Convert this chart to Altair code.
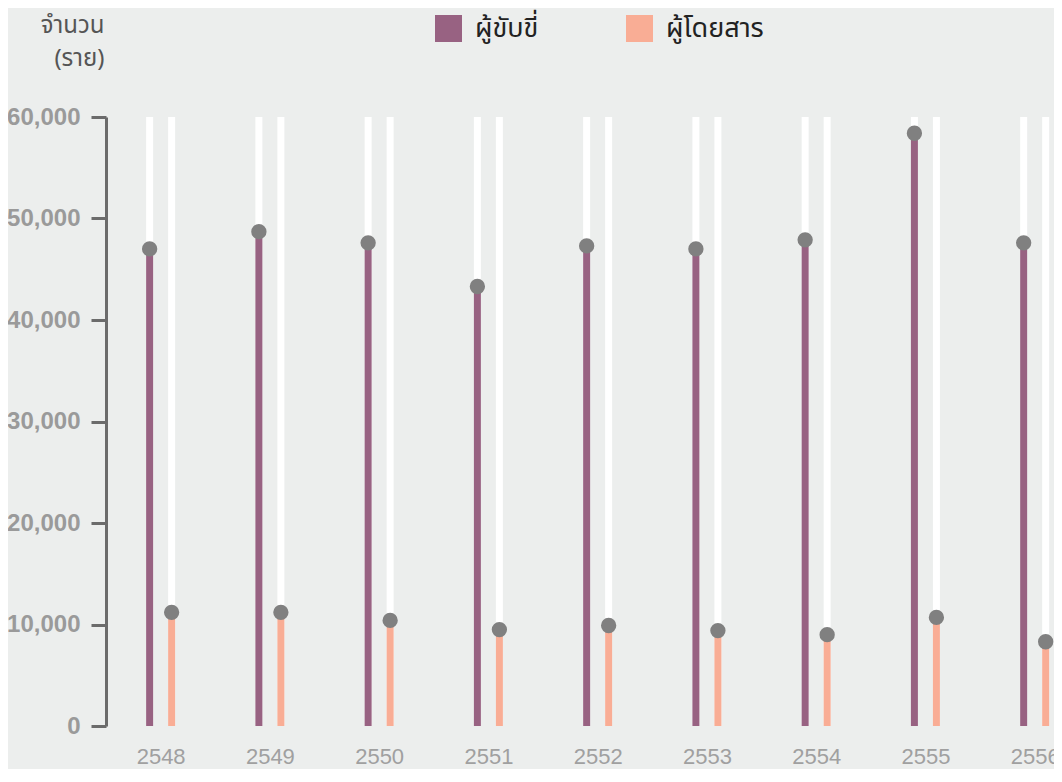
import altair as alt
import pandas as pd

years = [2548, 2549, 2550, 2551, 2552, 2553, 2554, 2555, 2556]
riders = [47000, 48700, 47600, 43300, 47300, 47000, 47900, 58400, 47600]
passengers = [11200, 11200, 10400, 9500, 9900, 9400, 9000, 10700, 8300]
series_names = ["ผู้ขับขี่", "ผู้โดยสาร"]
series_colors = ["#986282", "#f9ad95"]
y_ticks = [0, 10000, 20000, 30000, 40000, 50000, 60000]

rows = []
for i, yr in enumerate(years):
    rows.append({"year": yr, "series": series_names[0], "value": riders[i]})
    rows.append({"year": yr, "series": series_names[1], "value": passengers[i]})
df = pd.DataFrame(rows)

THAI = "Noto Sans Thai, Noto Sans Thai UI, Noto Sans, sans-serif"
NUM = "Liberation Sans, Arial, sans-serif"

x_enc = alt.X(
    "year:Q",
    scale=alt.Scale(domain=[2547.5, 2556.177], nice=False, zero=False, padding=0),
    axis=alt.Axis(
        values=years, format="d", title=None, domain=False, ticks=False, grid=False,
        labelFlush=False, labelFont=NUM, labelFontSize=22, labelColor="#a0a0a0",
        labelPadding=20,
    ),
)
y_scale = alt.Scale(domain=[0, 60000], nice=False, padding=0)
y_axis = alt.Axis(
    values=y_ticks, grid=False,
    labelExpr="format(datum.value, ',')",
    title=["จำนวน", "(ราย)"], titleAngle=0, titleAlign="right", titleBaseline="alphabetic",
    titleX=-2, titleY=-85, titleFont=THAI, titleFontSize=24, titleFontWeight="normal",
    titleColor="#555555", titleLineHeight=33,
    labelFont=NUM, labelFontSize=24, labelFontWeight="bold", labelColor="#9a9a9a",
    labelPadding=11, domainColor="#6b6b6b", domainWidth=3, tickColor="#6b6b6b",
    tickWidth=3, tickSize=15,
)

color_enc = alt.Color(
    "series:N",
    scale=alt.Scale(domain=series_names, range=series_colors),
    legend=alt.Legend(
        title=None, orient="none", direction="horizontal", legendX=329, legendY=-102,
        symbolType="square", symbolSize=729, symbolStrokeWidth=0, symbolOpacity=1,
        labelFont=THAI, labelFontSize=27, labelColor="#222222", labelOffset=13,
        columnPadding=87, padding=0,
    ),
)

layers = []
for name, off in zip(series_names, [-11, 11]):
    base = alt.Chart(df).transform_filter(alt.datum.series == name)
    track = base.mark_rule(color="white", strokeWidth=7, xOffset=off).encode(
        x=x_enc, y=alt.Y(datum=0, type="quantitative", scale=y_scale, axis=y_axis),
        y2=alt.datum(60000),
    )
    bar = base.mark_bar(width=7, xOffset=off, opacity=1).encode(
        x=x_enc, y=alt.Y("value:Q", scale=y_scale, axis=y_axis), y2=alt.datum(0),
        color=color_enc,
    )
    dot = base.mark_circle(size=235, color="#808080", opacity=1, xOffset=off).encode(
        x=x_enc, y=alt.Y("value:Q", scale=y_scale, axis=y_axis)
    )
    layers += [track, bar, dot]

chart = alt.layer(*layers).properties(
    width=948, height=609,
    autosize=alt.AutoSizeParams(type="none"),
    padding={"left": 98, "top": 109, "right": 0, "bottom": 43},
    background="#eceeed",
).configure_view(stroke=None)

chart.save("out.html", embed_options={"renderer": "svg", "actions": False})
